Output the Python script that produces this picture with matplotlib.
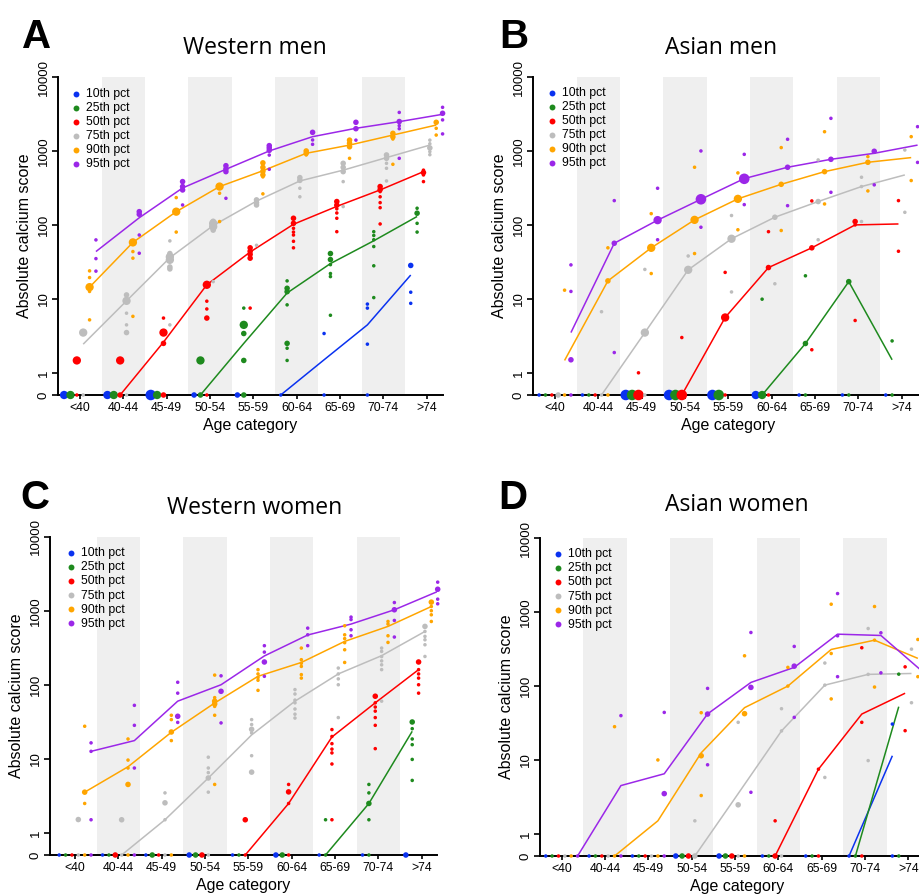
import numpy as np
import matplotlib
matplotlib.use("Agg")
import matplotlib.pyplot as plt
from matplotlib.ticker import NullLocator

nan = np.nan

CATEGORIES = ["<40", "40-44", "45-49", "50-54", "55-59", "60-64", "65-69", "70-74", ">74"]
PCT_LABELS = ["10th pct", "25th pct", "50th pct", "75th pct", "90th pct", "95th pct"]
Y_TICKS = [0, 1, 10, 100, 1000, 10000]
Y_TICK_LABELS = ["0", "1", "10", "100", "1000", "10000"]
PANEL_TITLES = ["Western men", "Asian men", "Western women", "Asian women"]
PANEL_LETTERS = ["A", "B", "C", "D"]

# fitted lines per percentile (10, 25, 50, 75, 90, 95) per age category
A_LINES = [
    [nan, nan, nan, nan, nan, 0, 1.5, 4.45, 21],
    [nan, nan, nan, 0, 2.5, 12, 30, 61, 130],
    [nan, 0, 2.6, 15.5, 43, 102, 178, 297, 525],
    [2.44, 9.4, 36, 98, 210, 393, 550, 813, 1200],
    [14.4, 58, 151, 330, 540, 930, 1200, 1640, 2240],
    [43.6, 125, 316, 565, 1000, 1560, 2025, 2490, 3130],
]
B_LINES = [
    [nan] * 9,
    [nan, nan, nan, nan, nan, 0, 2.49, 17.1, 1.5],
    [nan, nan, nan, 0, 5.6, 26.5, 49, 100, 103],
    [nan, 0, 3.5, 24.7, 65, 127, 207, 330, 474],
    [1.47, 17.5, 49, 117, 225, 354, 525, 703, 813],
    [3.5, 56.5, 116, 222, 423, 602, 771, 930, 1200],
]
C_LINES = [
    [nan] * 9,
    [nan, nan, nan, nan, nan, nan, 0, 2.49, 23.5],
    [nan, nan, nan, nan, 0, 2.49, 19.7, 57, 160],
    [nan, 0, 1.5, 5.5, 21, 60, 140, 247, 525],
    [3.54, 7.8, 22.8, 56.7, 130, 200, 385, 614, 1140],
    [12.6, 17.6, 60, 100, 245, 470, 660, 1030, 1820],
]
D_LINES = [
    [nan, nan, nan, nan, nan, nan, nan, 0, 11.4],
    [nan, nan, nan, nan, nan, nan, nan, 0, 52.6],
    [nan, nan, nan, nan, nan, 0, 7.5, 41.8, 80],
    [nan, nan, nan, 0, 3.5, 24.7, 103, 144, 148],
    [nan, 0, 1.5, 12.5, 51, 100, 313, 418, 237],
    [0, 4.5, 6.5, 42, 112, 179, 504, 484, 150],
]

# study estimates: (age category index, percentile index, calcium score, study weight)
A_POINTS = [
    (0,0,0,3),(0,1,0,3),(0,2,0,1),(0,3,0,1),(0,2,1.47,3),(0,3,3.5,3),
    (0,4,14.4,3),(0,4,23.9,1),(0,4,19.4,1),(0,4,12.6,1),(0,4,5.2,1),
    (0,5,62.7,1),(0,5,35,1),(0,5,23.7,1),
    (1,0,0,3),(1,1,0,3),(1,2,0,2),(1,3,0,1),(1,2,1.47,3),
    (1,3,9.4,3),(1,3,11.3,2),(1,3,6.4,1),(1,3,4.45,1),(1,3,3.5,2),
    (1,4,58,3),(1,4,43.6,1),(1,4,35.5,1),(1,4,5.8,1),
    (1,5,151,2),(1,5,139,2),(1,5,73,1),(1,5,41.4,1),
    (2,0,0,4),(2,1,0,3),(2,2,0,2),(2,2,3.5,3),(2,2,2.5,2),(2,2,5.5,1),
    (2,3,37,3),(2,3,33.7,3),(2,3,27,2),(2,3,25.4,2),(2,3,41,2),(2,3,60.8,1),(2,3,4.45,1),
    (2,4,151,3),(2,4,234,1),(2,4,80,1),
    (2,5,385,2),(2,5,330,2),(2,5,297,2),(2,5,186,1),
    (3,0,0,2),(3,1,0,2),(3,2,0,1),(3,2,15.5,3),(3,2,9.3,1),(3,2,7.3,1),(3,2,5.5,2),
    (3,1,1.47,3),(3,3,105,3),(3,3,95,3),(3,3,112,2),(3,3,85,2),(3,3,17.1,1),
    (3,4,330,3),(3,4,268,1),(3,4,111,1),
    (3,5,632,2),(3,5,570,2),(3,5,525,2),(3,5,229,1),
    (4,0,0,2),(4,1,0,2),(4,1,7.5,1),(4,1,4.45,3),(4,1,3.4,2),(4,1,1.47,2),
    (4,2,7.5,1),(4,2,49,2),(4,2,44,2),(4,2,40,2),(4,2,35.5,2),
    (4,3,218,2),(4,3,200,2),(4,3,186,2),(4,3,53,1),
    (4,4,690,2),(4,4,600,2),(4,4,530,2),(4,4,474,2),(4,4,446,1),(4,4,263,1),
    (4,5,1180,2),(4,5,1100,2),(4,5,1020,2),(4,5,880,1),(4,5,565,1),
    (5,0,0,1),(5,1,17.5,1),(5,1,13.9,2),(5,1,12.5,2),(5,1,8.3,1),(5,1,2.5,2),(5,1,2.15,1),(5,1,1.47,1),
    (5,2,123,2),(5,2,105,2),(5,2,90,1),(5,2,80,1),(5,2,73,1),(5,2,60,1),(5,2,49,1),
    (5,3,436,2),(5,3,400,2),(5,3,313,1),(5,3,240,1),
    (5,4,1000,2),(5,4,930,2),(5,4,883,1),
    (5,5,1786,2),(5,5,1408,1),(5,5,1230,1),
    (6,0,0,1),(6,0,3.4,1),
    (6,1,41,2),(6,1,34,2),(6,1,29,1),(6,1,22,1),(6,1,20,1),(6,1,6,1),
    (6,2,207,2),(6,2,185,2),(6,2,165,1),(6,2,145,1),(6,2,123,1),(6,2,81,1),
    (6,3,681,2),(6,3,600,2),(6,3,525,2),(6,3,385,1),(6,3,177,1),
    (6,4,1400,2),(6,4,1270,2),(6,4,1140,2),(6,4,795,1),
    (6,5,2440,2),(6,5,2000,2),(6,5,1400,1),
    (7,0,0,1),(7,0,8.5,1),(7,0,7.5,1),(7,0,2.44,1),
    (7,1,81,1),(7,1,72,1),(7,1,63,1),(7,1,51,1),(7,1,28,1),(7,1,10.4,1),
    (7,2,330,2),(7,2,300,2),(7,2,282,1),(7,2,240,1),(7,2,200,1),(7,2,171,1),(7,2,103,1),
    (7,3,883,2),(7,3,795,2),(7,3,681,1),(7,3,583,1),(7,3,393,1),
    (7,4,1730,2),(7,4,1550,2),(7,4,1450,1),(7,4,660,1),
    (7,5,3320,1),(7,5,2500,2),(7,5,2200,1),(7,5,2000,1),(7,5,795,1),
    (8,0,28.3,2),(8,0,12.3,1),(8,0,8.7,1),
    (8,1,168,1),(8,1,144,2),(8,1,105,1),(8,1,80,1),
    (8,2,550,1),(8,2,510,2),(8,2,474,1),(8,2,385,1),
    (8,3,1400,1),(8,3,1250,1),(8,3,1100,2),(8,3,980,1),(8,3,890,1),
    (8,4,2440,2),(8,4,2025,1),(8,4,1640,1),
    (8,5,3890,1),(8,5,3230,2),(8,5,2630,1),(8,5,1700,1),
]
B_POINTS = [
    (0,0,0,1),(0,1,0,1),(0,2,0,1),(0,3,0,2),(0,4,0,1),(0,5,0,1),
    (0,4,13.1,1),(0,5,28.8,1),(0,5,12.6,1),(0,5,1.5,2),
    (1,0,0,1),(1,1,0,1),(1,2,0,1),(1,3,0,1),(1,4,0,1),
    (1,3,6.7,1),(1,4,17.5,2),(1,4,49,1),(1,5,56.5,2),(1,5,213,1),(1,5,1.88,1),
    (2,0,0,4),(2,1,0,4),(2,2,0,4),(2,3,0,1),
    (2,2,1.0,1),(2,3,3.5,3),(2,3,25,1),(2,4,49,3),(2,4,142,1),(2,4,22,1),
    (2,5,116,3),(2,5,313,1),(2,5,63,1),
    (3,0,0,4),(3,1,0,4),(3,2,0,4),
    (3,2,3.0,1),(3,3,24.7,3),(3,3,38,1),(3,4,117,3),(3,4,602,1),(3,4,41,1),
    (3,5,222,4),(3,5,1000,1),(3,5,93,1),
    (4,0,0,4),(4,1,0,4),(4,2,0,1),
    (4,2,5.6,3),(4,2,22.8,1),(4,3,65,3),(4,3,134,1),(4,3,12.4,1),
    (4,4,225,3),(4,4,505,1),(4,4,86,1),(4,5,420,4),(4,5,900,1),(4,5,188,1),
    (5,0,0,3),(5,1,0,3),(5,2,0,1),
    (5,1,9.9,1),(5,2,26.5,2),(5,2,81,1),(5,3,127,2),(5,3,16,1),
    (5,4,354,2),(5,4,1110,1),(5,4,84,1),(5,5,602,2),(5,5,1438,1),(5,5,182,1),
    (6,0,0,1),(6,1,0,1),
    (6,1,2.49,2),(6,1,20.5,1),(6,2,49,2),(6,2,211,1),(6,2,2.05,1),
    (6,3,207,2),(6,3,756,1),(6,3,63,1),(6,4,525,2),(6,4,1820,1),(6,4,192,1),
    (6,5,771,2),(6,5,2760,1),(6,5,276,1),
    (7,0,0,1),(7,1,0,1),
    (7,1,17.1,2),(7,2,111,2),(7,2,100,1),(7,2,5.1,1),(7,3,441,1),(7,3,330,1),(7,3,111,1),
    (7,4,838,1),(7,4,703,2),(7,4,288,1),(7,5,990,2),(7,5,348,1),
    (8,0,0,1),(8,1,0,1),
    (8,1,2.7,1),(8,2,213,1),(8,2,44,1),(8,3,1030,1),(8,3,148,1),
    (8,4,1560,1),(8,4,398,1),(8,5,2130,1),(8,5,700,1),
]
C_POINTS = [
    (0,0,0,1),(0,1,0,1),(0,2,0,1),(0,3,0,1),(0,4,0,1),(0,5,0,1),
    (0,3,1.51,2),(0,4,3.54,2),(0,4,27.5,1),(0,4,2.49,1),(0,5,16.4,1),(0,5,12.6,1),(0,5,1.5,1),
    (1,0,0,1),(1,1,0,1),(1,2,0,2),(1,3,0,1),(1,4,0,1),(1,5,0,1),
    (1,3,1.5,2),(1,4,18.5,1),(1,4,9.6,1),(1,4,7.5,1),(1,4,4.5,2),
    (1,5,52.7,1),(1,5,28.3,1),(1,5,7.5,1),
    (2,0,0,1),(2,1,0,2),(2,2,0,1),(2,3,0,1),(2,4,0,1),
    (2,3,2.54,2),(2,3,3.46,1),(2,3,1.5,1),(2,4,23,2),(2,4,38.7,1),(2,4,33.8,1),(2,4,17.6,1),
    (2,5,37.5,2),(2,5,108,1),(2,5,77,1),(2,5,31,1),
    (3,0,0,2),(3,1,0,2),(3,2,0,2),(3,3,0,1),
    (3,3,5.5,2),(3,3,7.5,1),(3,3,10.5,1),(3,3,6.5,1),(3,3,3.54,1),
    (3,4,67,1),(3,4,60,2),(3,4,55,2),(3,4,51,1),(3,4,135,1),(3,4,38.7,1),(3,4,4.5,1),
    (3,5,132,1),(3,5,81.5,2),(3,5,30.5,1),
    (4,0,0,1),(4,1,0,1),(4,2,0,1),
    (4,2,1.5,2),(4,3,33.8,1),(4,3,29,1),(4,3,25,2),(4,3,22.3,1),(4,3,11,1),(4,3,6.6,2),
    (4,4,160,1),(4,4,140,1),(4,4,125,1),(4,4,115,1),(4,4,84,1),
    (4,5,337,1),(4,5,276,1),(4,5,203,2),(4,5,130,1),
    (5,0,0,2),(5,1,0,2),(5,2,0,1),
    (5,2,4.5,1),(5,2,3.57,2),(5,2,2.49,1),
    (5,3,86,1),(5,3,75,1),(5,3,62,1),(5,3,57,1),(5,3,47,1),(5,3,40,1),(5,3,35.5,1),
    (5,4,313,1),(5,4,218,1),(5,4,195,1),(5,4,177,1),(5,4,137,1),(5,4,123,1),
    (5,5,582,1),(5,5,473,1),(5,5,337,1),
    (6,0,0,1),(6,1,0,1),
    (6,1,1.5,1),(6,2,24.8,1),(6,2,20,1),(6,2,16,1),(6,2,13.5,1),(6,2,12,1),(6,2,8.5,1),(6,2,1.5,1),
    (6,3,168,1),(6,3,140,1),(6,3,120,1),(6,3,100,1),(6,3,36,1),
    (6,4,626,1),(6,4,473,1),(6,4,420,1),(6,4,370,1),(6,4,297,1),(6,4,200,1),
    (6,5,820,1),(6,5,760,1),(6,5,553,1),(6,5,459,1),
    (7,0,0,1),(7,1,0,1),
    (7,1,4.5,1),(7,1,3.46,1),(7,1,2.49,2),(7,1,1.5,1),
    (7,2,70,2),(7,2,57,1),(7,2,50,1),(7,2,44,1),(7,2,36,1),(7,2,28.3,1),(7,2,13.7,1),
    (7,3,313,1),(7,3,282,1),(7,3,240,1),(7,3,210,1),(7,3,186,1),(7,3,160,1),(7,3,60,1),
    (7,4,716,1),(7,4,660,1),(7,4,459,1),(7,4,373,1),
    (7,5,1290,1),(7,5,1030,2),(7,5,739,1),(7,5,441,1),
    (8,0,0,2),
    (8,1,31.4,2),(8,1,25.5,1),(8,1,18.5,1),(8,1,15.5,1),(8,1,9.8,1),(8,1,5.1,1),
    (8,2,203,2),(8,2,160,1),(8,2,140,1),(8,2,123,1),(8,2,100,1),(8,2,77,1),
    (8,3,614,2),(8,3,525,1),(8,3,450,1),(8,3,405,1),(8,3,347,1),(8,3,241,1),
    (8,4,1306,2),(8,4,1140,1),(8,4,1000,1),(8,4,881,1),(8,4,716,1),
    (8,5,1950,2),(8,5,2432,1),(8,5,1433,1),(8,5,1241,1),
]
D_POINTS = [
    (0,0,0,1),(0,1,0,1),(0,2,0,1),(0,3,0,1),(0,4,0,1),(0,5,0,1),
    (1,0,0,1),(1,1,0,1),(1,2,0,1),(1,3,0,1),(1,4,0,1),(1,5,0,1),(1,4,28.2,1),(1,5,39.8,1),
    (2,0,0,1),(2,1,0,1),(2,2,0,1),(2,3,0,1),(2,4,0,1),(2,5,0,1),
    (2,4,10,1),(2,5,44,1),(2,5,3.5,2),
    (3,0,0,2),(3,1,0,2),(3,2,0,2),(3,3,0,2),
    (3,3,1.5,1),(3,4,11.4,2),(3,4,43.6,1),(3,4,3.3,1),(3,5,41.8,2),(3,5,93,1),(3,5,8.6,1),
    (4,0,0,2),(4,1,0,2),(4,2,0,2),(4,3,0,1),(4,4,0,1),
    (4,3,2.47,2),(4,3,32.3,1),(4,4,42.3,2),(4,4,257,1),(4,5,96,2),(4,5,531,1),(4,5,3.65,1),
    (5,0,0,1),(5,1,0,1),(5,2,0,2),(5,3,0,1),
    (5,2,1.5,1),(5,3,49.4,1),(5,3,24.7,1),(5,4,179,1),(5,4,100,1),
    (5,5,344,1),(5,5,186,2),(5,5,37.7,1),
    (6,0,0,1),(6,1,0,1),(6,2,0,1),
    (6,2,7.5,1),(6,3,205,1),(6,3,103,1),(6,3,5.8,1),(6,4,1282,1),(6,4,276,1),(6,4,67,1),
    (6,5,1786,1),(6,5,479,1),(6,5,134,1),
    (7,0,0,1),(7,1,0,1),(7,2,0,1),
    (7,2,330,1),(7,2,32.3,1),(7,3,601,1),(7,3,144,1),(7,3,9.8,1),
    (7,4,1193,1),(7,4,418,1),(7,4,97,1),(7,5,526,1),(7,5,151,1),
    (8,0,0,1),(8,1,0,1),(8,0,30.6,1),(8,1,145,1),(8,2,182,1),(8,2,24.9,1),
    (8,3,316,1),(8,3,59.5,1),(8,4,427,1),(8,4,134,1),
]

# ---------------- styling ----------------
COLORS = ["#0a32f0", "#1e8a1e", "#ff0000", "#bdbdbd", "#ffa500", "#9b27e8"]
SIZE_BY_WEIGHT = {1: 6.5, 2: 16, 3: 36, 4: 58}
BAND_COLOR = "#efefef"
SANS = ["Liberation Sans", "DejaVu Sans"]
plt.rcParams["font.family"] = SANS


def fwd(v):
    v = np.asarray(v, dtype=float)
    return np.where(v >= 1, np.log10(np.maximum(v, 1)), (v - 1) * 0.3)


def inv(y):
    y = np.asarray(y, dtype=float)
    return np.where(y >= 0, 10 ** np.minimum(y, 10), 1 + y / 0.3)


def offset(p):
    return (p - 2.5) * 0.147


W, H = 919, 896
fig = plt.figure(figsize=(W / 100, H / 100), dpi=100)

# axes geometry in pixels: (left, top, bottom, xmin, xmax), category width 43.33 px
CAT_PX = 43.33
PANELS = [
    (A_LINES, A_POINTS, 58, 77, 395, -0.508, 8.376),
    (B_LINES, B_POINTS, 533, 77, 395, -0.508, 8.5),
    (C_LINES, C_POINTS, 50, 536.7, 855, -0.58, 8.34),
    (D_LINES, D_POINTS, 540, 538.3, 856, -0.5, 8.6),
]
# legend: marker-centre offset from axis (px), first-row centre below top (px)
LEGEND_PX = [(18, 18), (18.7, 17), (21, 17.6), (18, 17)]
TITLE_POS = [(255, 48), (721, 48), (255, 508), (737, 505)]
LETTER_POS = [(22, 48), (499, 48), (20, 509), (498, 509)]
LEG_FS = 8.8

for k, (lines, points, left, top, bottom, x0, x1) in enumerate(PANELS):
    width_px = (x1 - x0) * CAT_PX
    height_px = bottom - top
    ax = fig.add_axes([left / W, 1 - bottom / H, width_px / W, height_px / H])
    ax.set_yscale("function", functions=(fwd, inv))
    ax.set_ylim(0, 10000)
    ax.set_xlim(x0, x1)
    ax.set_facecolor("none")
    for c in range(1, len(CATEGORIES), 2):
        ax.axvspan(c - 0.5, c + 0.5, color=BAND_COLOR, lw=0, zorder=0)

    cats = np.arange(len(CATEGORIES))
    for p, vals in enumerate(lines):
        vals = np.asarray(vals, dtype=float)
        m = ~np.isnan(vals)
        if m.any():
            ax.plot(cats[m] + offset(p), vals[m], color=COLORS[p], lw=1.1,
                    zorder=2, solid_capstyle="butt")

    pts = np.array(points, dtype=float)
    xs = pts[:, 0] + offset(pts[:, 1])
    cols = [COLORS[int(p)] for p in pts[:, 1]]
    sizes = [SIZE_BY_WEIGHT[int(w)] for w in pts[:, 3]]
    ax.scatter(xs, pts[:, 2], s=sizes, c=cols, linewidths=0, zorder=3, clip_on=False)

    handles = [ax.scatter([], [], s=18, color=COLORS[p], linewidths=0, label=PCT_LABELS[p])
               for p in range(6)]
    fs_px = LEG_FS * 100 / 72
    mx, my = LEGEND_PX[k]
    hl = 1.2
    anchor_x = (mx - hl * fs_px / 2) / width_px
    anchor_y = 1 - (my - 7) / height_px
    ax.legend(handles=handles, loc="upper left", bbox_to_anchor=(anchor_x, anchor_y),
              frameon=False, fontsize=LEG_FS, handletextpad=0.25, labelspacing=0.17,
              handlelength=hl, borderaxespad=0, borderpad=0)

    ax.set_yticks(Y_TICKS)
    ax.set_yticklabels(Y_TICK_LABELS, rotation=90, va="center", fontsize=9.5)
    ax.yaxis.set_minor_locator(NullLocator())
    ax.set_xticks(cats)
    ax.set_xticklabels(CATEGORIES, fontsize=8.8)
    ax.tick_params(axis="y", length=4, width=1.2, pad=2)
    ax.tick_params(axis="x", length=3, width=1.2, pad=2)
    for s in ("top", "right"):
        ax.spines[s].set_visible(False)
    for s in ("left", "bottom"):
        ax.spines[s].set_linewidth(1.4)
    ax.set_ylabel("Absolute calcium score", fontsize=11.5, labelpad=4)
    ax.set_xlabel("Age category", fontsize=11.5, labelpad=3)

    tx, ty = TITLE_POS[k]
    fig.text(tx / W, 1 - ty / H, PANEL_TITLES[k], fontsize=16.5,
             family=["Open Sans", "DejaVu Sans"], ha="center", va="center")
    lx, ly = LETTER_POS[k]
    fig.text(lx / W, 1 - ly / H, PANEL_LETTERS[k], fontsize=29, fontweight="bold",
             ha="left", va="baseline")

fig.savefig("out.png", dpi=100)
